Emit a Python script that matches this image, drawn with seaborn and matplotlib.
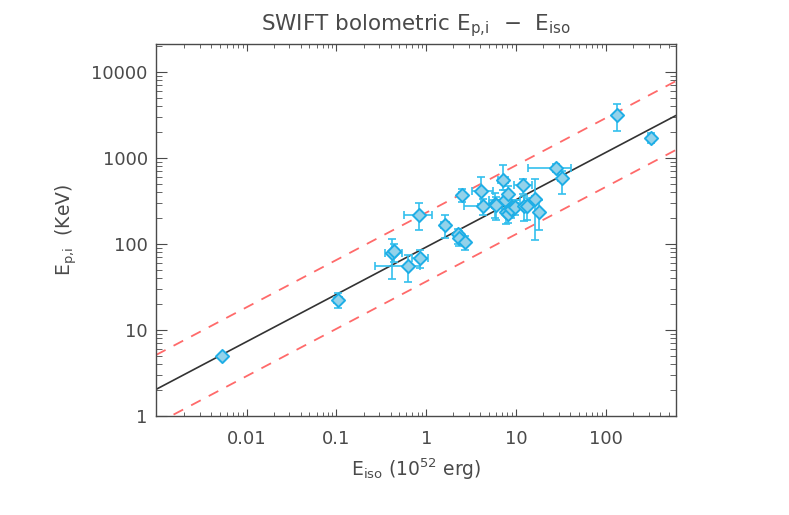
import numpy as np
import pandas as pd
import matplotlib.pyplot as plt
import seaborn as sns

# Swift GRBs: isotropic energy (1e52 erg) and rest-frame peak energy (keV)
e_iso = [0.0053, 0.104, 0.42, 0.44, 0.62, 0.83, 0.85, 1.61, 2.28, 2.33, 2.72, 2.47,
         4.07, 4.26, 5.8, 6.0, 7.2, 7.5, 8.1, 7.65, 8.2, 8.7, 9.8, 11.9, 12.2, 13.1,
         16.3, 18.1, 27.5, 32.3, 132.0, 313.0]
e_iso_lo = [0.0053, 0.095, 0.35, 0.42, 0.27, 0.56, 0.69, 1.45, 2.15, 2.2, 2.55, 2.3,
            3.2, 2.6, 5.0, 5.4, 6.2, 5.0, 7.5, 7.2, 7.6, 8.0, 9.0, 9.5, 10.5, 12.0,
            15.0, 17.0, 13.5, 29.0, 125.0, 295.0]
e_iso_hi = [0.0053, 0.115, 0.53, 0.47, 0.85, 1.15, 1.05, 1.8, 2.4, 2.45, 2.9, 2.7,
            5.5, 7.0, 6.8, 6.7, 8.2, 11.0, 8.8, 8.1, 8.8, 9.4, 10.6, 15.0, 14.0, 14.5,
            17.5, 19.5, 41.0, 36.0, 140.0, 330.0]
ep = [4.95, 22, 79, 82, 56, 215, 69, 165, 129, 116, 105, 373,
      415, 278, 291, 280, 556, 320, 376, 235, 225, 252, 268, 482, 273, 278,
      329, 235, 766, 581, 3148, 1690]
ep_lo = [4.6, 17.8, 39, 62, 36.5, 145, 52, 118, 100, 95, 85, 310,
         290, 215, 200, 190, 420, 230, 260, 170, 175, 200, 215, 380, 185, 190,
         110, 145, 680, 376, 2074, 1490]
ep_hi = [5.3, 26.8, 114, 100, 74.5, 297, 85, 215, 150, 140, 125, 430,
         597, 330, 390, 350, 822, 420, 470, 290, 280, 310, 320, 570, 360, 340,
         561, 320, 850, 701, 4260, 1950]

# best-fit Ep,i = K * Eiso^m and its +/- scatter band (dex)
fit_norm = 92.0
fit_slope = 0.55
scatter_dex = 0.4

df = pd.DataFrame({"eiso": e_iso, "ep": ep})

sns.set_style("white")
plt.rcParams["font.family"] = ["DejaVu Sans"]
plt.rcParams["mathtext.default"] = "regular"
gray = "#4a4a4a"

fig = plt.figure(figsize=(7.89, 5.15), dpi=100)
ax = fig.add_axes([0.1977, 0.1922, 0.659, 0.7223])

xmin, xmax = 0.00098, 600
xl = np.logspace(np.log10(xmin), np.log10(xmax), 200)
yl = fit_norm * xl ** fit_slope
ax.plot(xl, yl, color="#333333", lw=1.2, zorder=2)
ax.plot(xl, yl * 10 ** scatter_dex, color="#ff6a6a", lw=1.3, ls=(0, (6, 5)), zorder=2)
ax.plot(xl, yl / 10 ** scatter_dex, color="#ff6a6a", lw=1.3, ls=(0, (6, 5)), zorder=2)

xerr = [np.array(e_iso) - np.array(e_iso_lo), np.array(e_iso_hi) - np.array(e_iso)]
yerr = [np.array(ep) - np.array(ep_lo), np.array(ep_hi) - np.array(ep)]
ax.errorbar(e_iso, ep, xerr=xerr, yerr=yerr, fmt="none", ecolor="#33c0ee",
            elinewidth=1.2, capsize=3, capthick=1.2, zorder=3)
sns.scatterplot(data=df, x="eiso", y="ep", ax=ax, marker="D", s=45,
                color="#93d2ea", edgecolor="#1eaee6", linewidth=1.4, zorder=4)

ax.set_xscale("log")
ax.set_yscale("log")
ax.set_xlim(xmin, xmax)
ax.set_ylim(1, 21000)
ax.set_xticks([0.01, 0.1, 1, 10, 100])
ax.set_xticklabels(["0.01", "0.1", "1", "10", "100"])
ax.set_yticks([1, 10, 100, 1000, 10000])
ax.set_yticklabels(["1", "10", "100", "1000", "10000"])

for s in ax.spines.values():
    s.set_color(gray)
    s.set_linewidth(1.0)
ax.tick_params(which="both", direction="in", bottom=True, left=True, top=True, right=True,
               colors=gray, labelsize=13, labelcolor=gray)
ax.tick_params(axis="x", which="major", length=5, pad=10)
ax.tick_params(axis="x", which="minor", length=3)
ax.tick_params(axis="y", which="major", length=8, pad=6)
ax.tick_params(axis="y", which="minor", length=4)

ax.set_title("SWIFT bolometric E$_{p{,}i}$  $-$  E$_{iso}$", fontsize=15.5, color=gray, pad=10)
ax.set_xlabel("E$_{iso}$ (10$^{52}$ erg)", fontsize=13.5, color=gray, labelpad=6)
ax.set_ylabel("E$_{p{,}i}$  (KeV)", fontsize=13.5, color=gray, labelpad=9)

fig.savefig("out.png", dpi=100)
